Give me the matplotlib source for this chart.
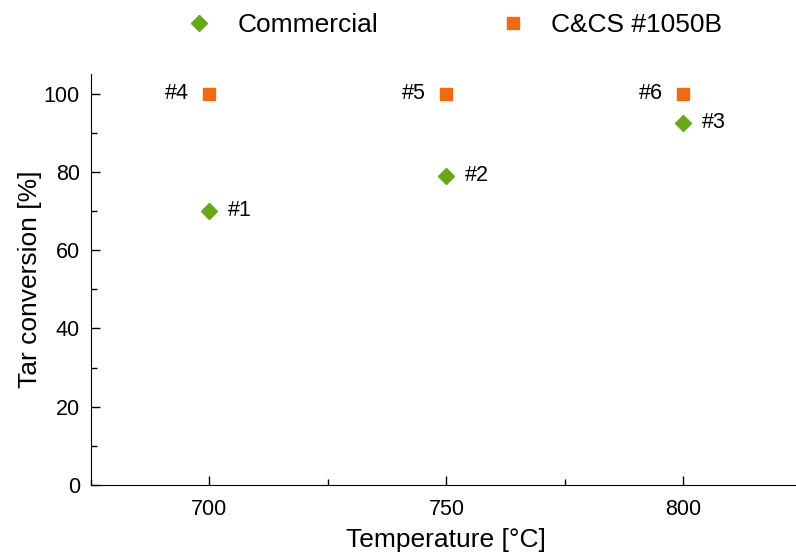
import matplotlib.pyplot as plt
from matplotlib.ticker import MultipleLocator

plt.rcParams['font.family'] = ['Liberation Sans', 'DejaVu Sans']

temps = [700, 750, 800]
commercial = [70, 79, 92.5]
ccs = [100, 100, 100]
commercial_labels = ['#1', '#2', '#3']
ccs_labels = ['#4', '#5', '#6']

green = '#66a81a'
orange = '#f26a10'

fig = plt.figure(figsize=(7.96, 5.54), dpi=100)
ax = fig.add_axes([0.1143, 0.1245, 0.893, 0.742])

ax.plot(temps, commercial, 'D', color=green, markersize=8, label='Commercial', linestyle='none')
ax.plot(temps, ccs, 's', color=orange, markersize=8.5, label='C&CS #1050B', linestyle='none')

for t, v, lab in zip(temps, commercial, commercial_labels):
    ax.annotate(lab, (t, v), xytext=(13, 0), textcoords='offset points',
                va='center', ha='left', fontsize=15.5)
for t, v, lab in zip(temps, ccs, ccs_labels):
    ax.annotate(lab, (t, v), xytext=(-15, 0), textcoords='offset points',
                va='center', ha='right', fontsize=15.5)

ax.set_xlim(675, 825)
ax.set_ylim(0, 105)
ax.xaxis.set_major_locator(MultipleLocator(50))
ax.xaxis.set_minor_locator(MultipleLocator(25))
ax.yaxis.set_major_locator(MultipleLocator(20))
ax.yaxis.set_minor_locator(MultipleLocator(10))
ax.tick_params(which='major', direction='in', length=6.5, width=1, labelsize=15.5, pad=8)
ax.tick_params(axis='x', which='major', pad=10)
ax.tick_params(which='minor', direction='in', length=4, width=1)
ax.spines['top'].set_visible(False)
ax.spines['right'].set_visible(False)

ax.set_xlabel('Temperature [°C]', fontsize=19, labelpad=6)
ax.set_ylabel('Tar conversion [%]', fontsize=19, labelpad=1)

fig.legend(loc='center', bbox_to_anchor=(0.5705, 0.954), ncol=2, frameon=False,
           fontsize=19, handlelength=1, handletextpad=0.95, columnspacing=4.6)

fig.savefig('out.png', dpi=100)
